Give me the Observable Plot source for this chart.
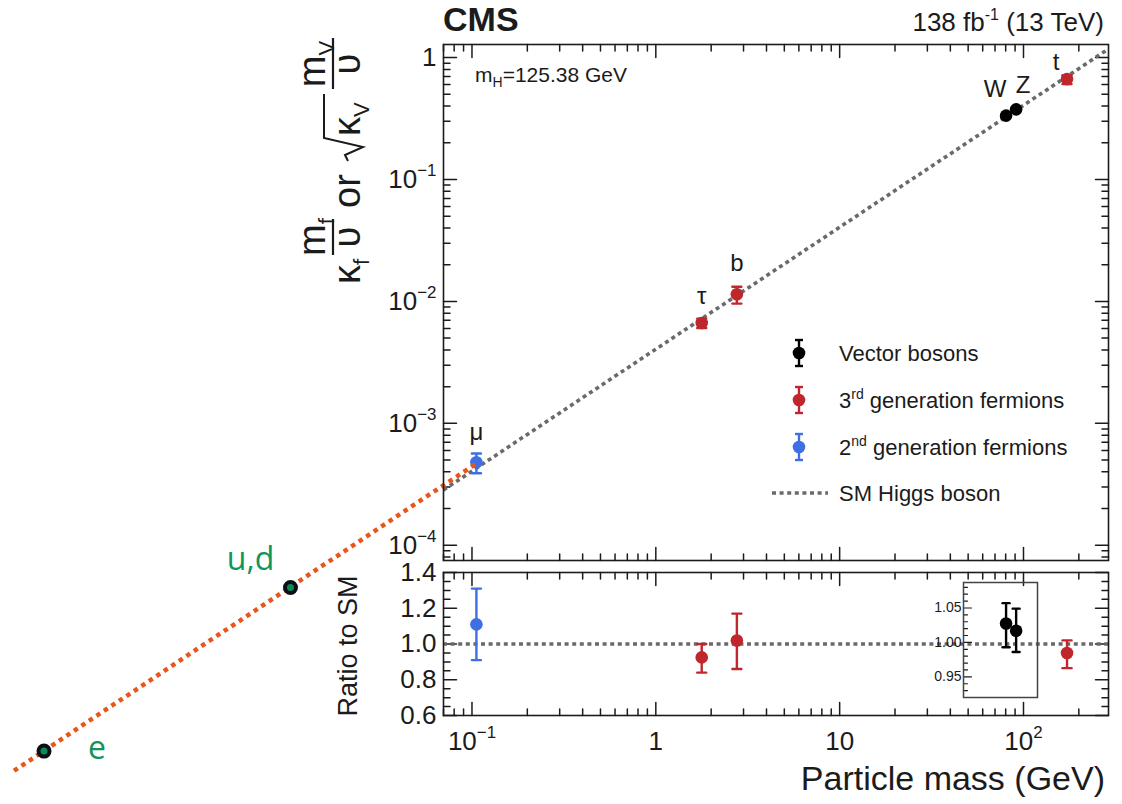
<!DOCTYPE html>
<html><head><meta charset="utf-8">
<script src="https://cdn.jsdelivr.net/npm/d3@7"></script>
<script src="https://cdn.jsdelivr.net/npm/@observablehq/plot@0.6"></script>
<style>
body{margin:0;background:#fff;}
#wrap{position:relative;width:1122px;height:804px;overflow:hidden;font-family:"Liberation Sans",Arial,Helvetica,sans-serif;background:#fff;}
#wrap > svg{position:absolute;left:0;top:0;}
</style></head><body><div id="wrap"></div>
<script>
// ---------------- data ----------------
const particles = ["μ", "τ", "b", "W", "Z", "t"];
const groups    = ["2nd", "3rd", "3rd", "V", "V", "3rd"];
const masses    = [0.1057, 1.777, 2.76, 80.4, 91.19, 172.5];           // GeV
const coupling  = [4.8e-4, 6.65e-3, 1.145e-2, 0.334, 0.376, 0.666];
const couplingLo= [3.9e-4, 6.06e-3, 9.6e-3, 0.326, 0.367, 0.606];
const couplingHi= [5.65e-4, 7.22e-3, 1.32e-2, 0.343, 0.386, 0.716];
const ratio     = [1.11, 0.925, 1.02, 1.0275, 1.017, 0.95];
const ratioLo   = [0.91, 0.84, 0.86, 0.993, 0.986, 0.865];
const ratioHi   = [1.31, 1.00, 1.17, 1.057, 1.049, 1.02];

const smMass  = [0.07, 290];          // SM Higgs boson expectation line
const smValue = [2.84e-4, 1.178];

const extMass  = [0.1038, 3.08e-4];   // hand-drawn extrapolation (orange)
const extValue = [4.61e-4, 1.35e-6];

const lightNames = ["u,d", "e"];
const lightMass  = [0.0103, 4.7e-4];
const lightValue = [4.5e-5, 2.05e-6];

const xMajor = [0.1, 1, 10, 100];
const yMajor = [1e-4, 1e-3, 1e-2, 1e-1, 1];
const rMajor = [0.6, 0.8, 1.0, 1.2, 1.4];
const insetMajor = [0.95, 1.00, 1.05];

// ---------------- helpers ----------------
const minorLog = (lo, hi) => { const out = []; for (let e = -6; e <= 3; e++) for (let k = 2; k <= 9; k++) { const v = k * Math.pow(10, e); if (v >= lo && v <= hi) out.push(+v.toPrecision(3)); } return out; };
const xMinor = minorLog(0.07, 290);
const yMinor = minorLog(7.5e-5, 1.28);
const rMinor = d3.range(0.6, 1.401, 0.05).map(v => +v.toFixed(2)).filter(v => !rMajor.some(m => Math.abs(m - v) < 1e-6));
const insetMinor = d3.range(0.93, 1.081, 0.01).map(v => +v.toFixed(2)).filter(v => !insetMajor.some(m => Math.abs(m - v) < 1e-6));

const ink = "#1b1b1b";
const colorOf = {"V": "#000000", "3rd": "#c0272d", "2nd": "#3f6fe2"};
const rows = particles.map((p, i) => ({p, g: groups[i], col: colorOf[groups[i]], m: masses[i], c: coupling[i], lo: couplingLo[i], hi: couplingHi[i], r: ratio[i], rlo: ratioLo[i], rhi: ratioHi[i]}));
const smRows = smMass.map((m, i) => ({m, v: smValue[i]}));
const extRows = extMass.map((m, i) => ({m, v: extValue[i]}));
const lightRows = lightNames.map((n, i) => ({n, m: lightMass[i], v: lightValue[i]}));

const seg = (dx, dy) => ({draw(c, l) { c.moveTo(0, 0); c.lineTo(dx * l, dy * l); }});
const shapes = {left: seg(1, 0), right: seg(-1, 0), top: seg(0, 1), bottom: seg(0, -1)};
const hbar = {draw(c, l) { c.moveTo(-l / 2, 0); c.lineTo(l / 2, 0); }};
function edgeTicks(values, dim, anchor, len, sw = 1.5) {
  return Plot.vector(values, {[dim]: d => d, frameAnchor: anchor, length: len, shape: shapes[anchor], anchor: "start", stroke: ink, strokeWidth: sw});
}
const powFmt = d => {
  if (d === 1) return "1";
  if (d === 10) return "10";
  const e = Math.round(Math.log10(d));
  return "10^{" + String(e).replace("-", "\u2212") + "}";
};
function errorMarks(data, xk, yk, lok, hik, r = 6.3, cap = 9) {
  return [
    Plot.ruleX(data, {x: xk, y1: lok, y2: hik, stroke: "col", strokeWidth: 2.4}),
    Plot.vector(data, {x: xk, y: lok, length: cap, shape: hbar, anchor: "start", stroke: "col", strokeWidth: 2.4}),
    Plot.vector(data, {x: xk, y: hik, length: cap, shape: hbar, anchor: "start", stroke: "col", strokeWidth: 2.4}),
    Plot.dot(data, {x: xk, y: yk, r, fill: "col", stroke: "none"})
  ];
}
const W = 1122, H = 804;
const baseStyle = {fontFamily: "'Liberation Sans', Arial, Helvetica, sans-serif", background: "transparent", overflow: "visible", color: ink};
const dotted = {strokeWidth: 3.6, strokeDasharray: "4 3.6", strokeLinecap: "butt"};

// ---------------- main panel ----------------
const labelNudge = {"μ": [0, -30], "τ": [0, -27], "b": [0, -31], "W": [-11, -26], "Z": [7, -24], "t": [-11, -17]};
const main = Plot.plot({
  width: W, height: H, marginLeft: 443, marginRight: 14, marginTop: 44, marginBottom: 244,
  x: {type: "log", domain: [0.07, 290], axis: null},
  y: {type: "log", domain: [7.5e-5, 1.28], axis: null},
  color: {type: "identity"},
  style: baseStyle,
  marks: [
    edgeTicks(yMajor, "y", "left", 13), edgeTicks(yMinor, "y", "left", 6.5),
    edgeTicks(yMajor, "y", "right", 13), edgeTicks(yMinor, "y", "right", 6.5),
    edgeTicks(xMajor, "x", "top", 13), edgeTicks(xMinor, "x", "top", 6.5),
    edgeTicks(xMajor, "x", "bottom", 13), edgeTicks(xMinor, "x", "bottom", 6.5),
    Plot.axisY(yMajor, {anchor: "left", tickSize: 0, tickPadding: 7, tickFormat: powFmt, fontSize: 26, label: null}),
    Plot.line(smRows, {x: "m", y: "v", stroke: "#6a6a6a", ...dotted}),
    ...errorMarks(rows, "m", "c", "lo", "hi"),
    ...rows.map(r => Plot.text([r], {x: "m", y: "c", text: "p", dx: labelNudge[r.p][0], dy: labelNudge[r.p][1], fontSize: 24, fill: ink})),
    Plot.line(extRows, {x: "m", y: "v", stroke: "#e8561c", strokeWidth: 4.5, strokeDasharray: "4.5 4.5", strokeLinecap: "butt"}),
    Plot.dot(lightRows, {x: "m", y: "v", r: 5.5, fill: "#0c8a55", stroke: "#0b0f18", strokeWidth: 4}),
    Plot.text(lightRows.filter(d => d.n === "u,d"), {x: "m", y: "v", text: "n", dx: -40, dy: -28, fontSize: 32, fontFamily: "'Open Sans', sans-serif", fill: "#10945a"}),
    Plot.text(lightRows.filter(d => d.n === "e"), {x: "m", y: "v", text: "n", dx: 53, dy: -2, fontSize: 32, fontFamily: "'Open Sans', sans-serif", fill: "#10945a"}),
    Plot.frame({stroke: ink, strokeWidth: 1.6})
  ]
});

// ---------------- ratio panel ----------------
const ratioRows = rows.filter(d => d.g !== "V");
const ratioPlot = Plot.plot({
  width: W, height: H, marginLeft: 443, marginRight: 14, marginTop: 572, marginBottom: 89,
  x: {type: "log", domain: [0.07, 290], axis: null},
  y: {domain: [0.6, 1.4], axis: null},
  color: {type: "identity"},
  style: baseStyle,
  marks: [
    edgeTicks(rMajor, "y", "left", 13), edgeTicks(rMinor, "y", "left", 6.5),
    edgeTicks(rMajor, "y", "right", 13), edgeTicks(rMinor, "y", "right", 6.5),
    edgeTicks(xMajor, "x", "top", 13), edgeTicks(xMinor, "x", "top", 6.5),
    edgeTicks(xMajor, "x", "bottom", 13), edgeTicks(xMinor, "x", "bottom", 6.5),
    Plot.axisY(rMajor, {anchor: "left", tickSize: 0, tickPadding: 7, tickFormat: d3.format(".1f"), fontSize: 26, label: null}),
    Plot.axisX(xMajor, {anchor: "bottom", tickSize: 0, tickPadding: 16, tickFormat: powFmt, fontSize: 26, label: null}),
    Plot.ruleY([1], {stroke: "#6a6a6a", ...dotted}),
    ...errorMarks(ratioRows, "m", "r", "rlo", "rhi"),
    Plot.frame({stroke: ink, strokeWidth: 1.6})
  ]
});

// ---------------- inset (vector bosons) ----------------
const sx = main.scale("x");
const bosonRows = rows.filter(d => d.g === "V");
const inset = Plot.plot({
  width: W, height: H, marginLeft: 963, marginRight: 85, marginTop: 582, marginBottom: 107,
  x: {type: "log", domain: [sx.invert(963), sx.invert(1037)], axis: null},
  y: {domain: [0.92, 1.087], axis: null},
  color: {type: "identity"},
  style: baseStyle,
  marks: [
    edgeTicks(insetMajor, "y", "left", 8, 1.2), edgeTicks(insetMinor, "y", "left", 4, 1.2),
    Plot.axisY(insetMajor, {anchor: "left", tickSize: 0, tickPadding: 2, tickFormat: d3.format(".2f"), fontSize: 14, label: null}),
    ...errorMarks(bosonRows, "m", "r", "rlo", "rhi", 6.3, 7),
    Plot.frame({stroke: "#444", strokeWidth: 1.5})
  ]
});

// superscript rendering: "10^{−1}" -> tspans
function supify(svg) {
  svg.querySelectorAll("text").forEach(t => {
    const s = t.textContent;
    const m = s.match(/^(.*)\^\{(.*)\}$/);
    if (!m) return;
    while (t.firstChild) t.removeChild(t.firstChild);
    t.appendChild(document.createTextNode(m[1]));
    const sp = document.createElementNS("http://www.w3.org/2000/svg", "tspan");
    sp.setAttribute("font-size", "65%");
    sp.setAttribute("dy", "-0.7em");
    sp.textContent = m[2];
    t.appendChild(sp);
  });
}

const wrap = document.getElementById("wrap");
[main, ratioPlot, inset].forEach(s => { wrap.appendChild(s); supify(s); });

// ---------------- titles, axis titles, legend ----------------
const legendY = [353, 400, 447];
const legendItems = [["V", "Vector bosons", ""], ["3rd", "3", "rd"], ["2nd", "2", "nd"]];
let legend = "";
legendItems.forEach(([g, a, sup], i) => {
  const y = legendY[i], c = colorOf[g];
  legend += `<line x1="799" x2="799" y1="${y-13}" y2="${y+13}" stroke="${c}" stroke-width="2.4"/>
  <line x1="795" x2="803" y1="${y-13}" y2="${y-13}" stroke="${c}" stroke-width="2.4"/>
  <line x1="795" x2="803" y1="${y+13}" y2="${y+13}" stroke="${c}" stroke-width="2.4"/>
  <circle cx="799" cy="${y}" r="6.3" fill="${c}"/>`;
  legend += sup
    ? `<text x="839" y="${y+8}" font-size="22">${a}<tspan dy="-9" font-size="14">${sup}</tspan><tspan dy="9"> generation fermions</tspan></text>`
    : `<text x="839" y="${y+8}" font-size="22">${a}</text>`;
});
legend += `<line x1="772" x2="828" y1="493" y2="493" stroke="#6a6a6a" stroke-width="3.6" stroke-dasharray="4 3.6"/>
<text x="839" y="501" font-size="22">SM Higgs boson</text>`;

const overlay = `<svg xmlns="http://www.w3.org/2000/svg" width="1122" height="804" style="font-family:'Liberation Sans',Arial,Helvetica,sans-serif;fill:${ink}">
<text x="443" y="31" font-size="34" font-weight="bold">CMS</text>
<text x="1104" y="31" font-size="26" text-anchor="end">138 fb<tspan dy="-11" font-size="16">-1</tspan><tspan dy="11"> (13 TeV)</tspan></text>
<text x="475" y="82" font-size="21">m<tspan dy="5" font-size="14">H</tspan><tspan dy="-5">=125.38 GeV</tspan></text>
${legend}
<g transform="translate(360,294) rotate(-90)" font-size="38">
  <text x="10" y="0">κ<tspan font-size="22" dy="9">f</tspan></text>
  <text x="57" y="-35" text-anchor="middle">m<tspan font-size="22" dy="9">f</tspan></text>
  <line x1="39" x2="75" y1="-27" y2="-27" stroke="${ink}" stroke-width="2.2"/>
  <text x="57" y="0" text-anchor="middle">υ</text>
  <text x="86" y="0">or</text>
  <path d="M133,-12 L139,-15 L147,3 L156,-36 L200,-36" fill="none" stroke="${ink}" stroke-width="2"/>
  <text x="158" y="0">κ<tspan font-size="22" dy="9">V</tspan></text>
  <text x="230" y="-35" text-anchor="middle">m<tspan font-size="22" dy="9">V</tspan></text>
  <line x1="205" x2="256" y1="-27" y2="-27" stroke="${ink}" stroke-width="2.2"/>
  <text x="230" y="0" text-anchor="middle">υ</text>
</g>
<text transform="translate(357,646) rotate(-90)" font-size="27" text-anchor="middle">Ratio to SM</text>
<text x="1105" y="790" font-size="34" text-anchor="end">Particle mass (GeV)</text>
</svg>`;
wrap.insertAdjacentHTML("beforeend", overlay);
</script></body></html>
